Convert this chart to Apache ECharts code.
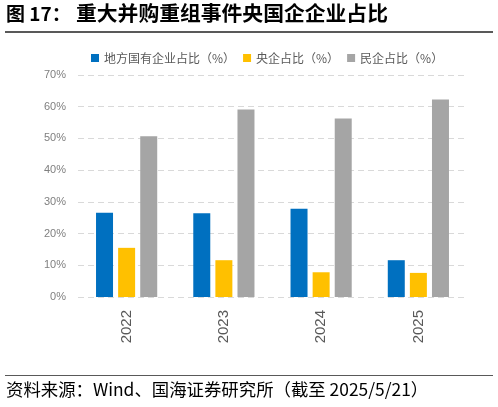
<!DOCTYPE html>
<html>
<head>
<meta charset="utf-8">
<script src="https://cdn.jsdelivr.net/npm/echarts@6/dist/echarts.min.js"></script>
<style>
  html, body { margin: 0; padding: 0; background: #fff; }
  #chart { width: 498px; height: 407px; }
</style>
</head>
<body>
<div id="chart"></div>
<script>
// 年份与各类占比（%）
const years = ['2022', '2023', '2024', '2025'];
const difangGuoqi = [26.6, 26.4, 27.8, 11.6];
const yangqi = [15.5, 11.6, 7.8, 7.6];
const minqi = [50.7, 59.1, 56.3, 62.3];
const yTicks = [0, 10, 20, 30, 40, 50, 60, 70];

const cjk = '"Noto Sans CJK SC", "Liberation Sans", sans-serif';

const chart = echarts.init(document.getElementById('chart'));

const makeBar = (name, data, color) => ({
    name: name,
    type: 'bar',
    data: data,
    barWidth: 17,
    barGap: '30%',
    itemStyle: { color: color }
});

chart.setOption({
    animation: false,
    textStyle: { fontFamily: cjk },
    graphic: [
        {
            type: 'text', left: 6, top: 4,
            style: { text: '图 17：', font: 'bold 19px ' + cjk, fill: '#000' }
        },
        {
            type: 'text', left: 76, top: 3,
            style: { text: '重大并购重组事件央国企企业占比', font: 'bold 20.8px ' + cjk, fill: '#000' }
        },
        {
            type: 'rect', left: 5, top: 31,
            shape: { width: 488, height: 2 },
            style: { fill: '#595959' }
        },
        {
            type: 'rect', left: 5, top: 375,
            shape: { width: 488, height: 1 },
            style: { fill: '#595959' }
        },
        {
            type: 'text', left: 6, top: 381,
            style: { text: '资料来源：Wind、国海证券研究所（截至 2025/5/21）', font: '17.4px ' + cjk, fill: '#000' }
        }
    ],
    legend: {
        top: 47,
        left: 86,
        itemWidth: 8,
        itemHeight: 8,
        itemGap: 8,
        icon: 'rect',
        textStyle: { fontSize: 12, color: '#595959', fontFamily: cjk },
        data: ['地方国有企业占比（%）', '央企占比（%）', '民企占比（%）']
    },
    grid: { left: 78, right: 31, top: 75, bottom: 110 },
    xAxis: {
        type: 'category',
        data: years,
        axisLine: { show: false },
        axisTick: { show: false },
        axisLabel: {
            rotate: 90,
            margin: 13,
            fontSize: 15,
            color: '#595959',
            fontFamily: '"Liberation Sans", sans-serif'
        }
    },
    yAxis: {
        type: 'value',
        min: yTicks[0],
        max: yTicks[yTicks.length - 1],
        interval: 10,
        axisLine: { show: false },
        axisTick: { show: false },
        axisLabel: {
            formatter: '{value}%',
            fontSize: 11,
            color: '#7f7f7f',
            margin: 12,
            fontFamily: '"Liberation Sans Narrow", "Liberation Sans", sans-serif'
        },
        splitLine: {
            lineStyle: { color: '#d9d9d9', type: [6, 4], width: 1 }
        }
    },
    series: [
        makeBar('地方国有企业占比（%）', difangGuoqi, '#0070c0'),
        makeBar('央企占比（%）', yangqi, '#ffc000'),
        makeBar('民企占比（%）', minqi, '#a5a5a5')
    ]
});
</script>
</body>
</html>
